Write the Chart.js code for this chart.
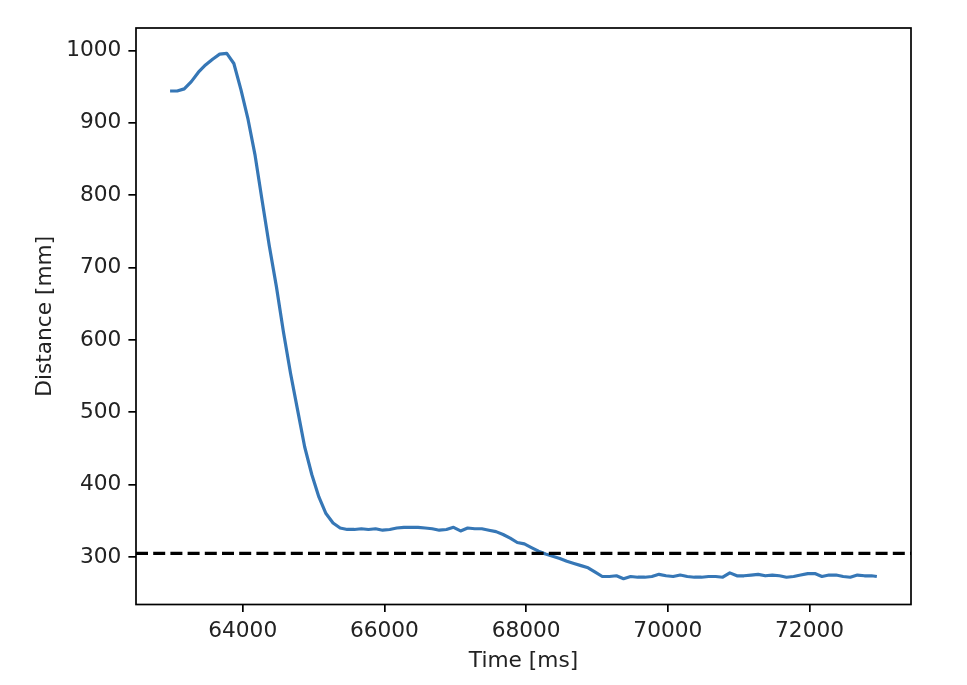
<!DOCTYPE html>
<html lang="en">
<head>
    <meta charset="UTF-8">
    <title>Distance vs Time</title>
    <script src="https://cdn.jsdelivr.net/npm/chart.js"></script>
    <style>
        body, html {
            margin: 0;
            padding: 0;
            background: #fff;
        }
        #chart {
            display: block;
        }
    </style>
</head>
<body>
<canvas id="chart" width="967" height="685" style="width:967px;height:685px;"></canvas>
<script>
    // Measured samples (time in ms, distance in mm)
    const times = [
        62975, 63075, 63175, 63275, 63375, 63475, 63575, 63675, 63775, 63875,
        63975, 64075, 64175, 64275, 64375, 64475, 64575, 64675, 64775, 64875,
        64975, 65075, 65175, 65275, 65375, 65475, 65575, 65675, 65775, 65875,
        65975, 66075, 66175, 66275, 66375, 66475, 66575, 66675, 66775, 66875,
        66975, 67075, 67175, 67275, 67375, 67475, 67575, 67675, 67775, 67875,
        67975, 68075, 68175, 68275, 68375, 68475, 68575, 68675, 68775, 68875,
        68975, 69075, 69175, 69275, 69375, 69475, 69575, 69675, 69775, 69875,
        69975, 70075, 70175, 70275, 70375, 70475, 70575, 70675, 70775, 70875,
        70975, 71075, 71175, 71275, 71375, 71475, 71575, 71675, 71775, 71875,
        71975, 72075, 72175, 72275, 72375, 72475, 72575, 72675, 72775, 72875,
        72950
    ];
    const distances = [
        944, 944, 947, 957, 970, 980, 988, 995, 996, 982,
        946, 905, 855, 792, 730, 674, 611, 554, 503, 452,
        414, 383, 360, 347, 340, 338, 338, 339, 338, 339,
        337, 338, 340, 341, 341, 341, 340, 339, 337, 338,
        341, 336, 340, 339, 339, 337, 335, 331, 326, 320,
        318, 313, 308, 304, 301, 298, 294, 291, 288, 285,
        279, 273, 273, 274, 270, 273, 272, 272, 273, 276,
        274, 273, 275, 273, 272, 272, 273, 273, 272, 278,
        274, 274, 275, 276, 274, 275, 274, 272, 273, 275,
        277, 277, 273, 275, 275, 273, 272, 275, 274, 274,
        273
    ];
    const threshold = 305;

    const xTicks = [64000, 66000, 68000, 70000, 72000];
    const yTicks = [300, 400, 500, 600, 700, 800, 900, 1000];
    const xRange = [62494, 73432];
    const yRange = [234.3, 1031.1];

    const FONT = 'DejaVu Sans';
    const FS = 21.7;

    // dashed horizontal reference line + full frame around the axes
    const extras = {
        id: 'extras',
        afterDatasetsDraw(chart) {
            const {ctx, chartArea: a, scales} = chart;
            const y = scales.y.getPixelForValue(threshold);
            ctx.save();
            ctx.strokeStyle = '#000';
            ctx.lineWidth = 3.2;
            ctx.setLineDash([12, 5.2]);
            ctx.beginPath();
            ctx.moveTo(a.left, y);
            ctx.lineTo(a.right, y);
            ctx.stroke();
            ctx.setLineDash([]);
            ctx.lineWidth = 1.7;
            ctx.strokeRect(a.left, a.top, a.right - a.left, a.bottom - a.top);
            ctx.restore();
        }
    };

    new Chart(document.getElementById('chart'), {
        type: 'line',
        data: {
            datasets: [{
                data: times.map((t, i) => ({x: t, y: distances[i]})),
                borderColor: '#3677b6',
                borderWidth: 3.2,
                pointRadius: 0,
                tension: 0,
                fill: false,
                borderJoinStyle: 'round'
            }]
        },
        options: {
            responsive: false,
            animation: false,
            devicePixelRatio: 1,
            layout: {padding: {left: 0, top: 28, right: 56, bottom: 0}},
            plugins: {legend: {display: false}, tooltip: {enabled: false}},
            scales: {
                x: {
                    type: 'linear',
                    min: xRange[0],
                    max: xRange[1],
                    afterBuildTicks: ax => { ax.ticks = xTicks.map(v => ({value: v})); },
                    afterFit: ax => { ax.height = 80.5; },
                    grid: {drawOnChartArea: false, drawTicks: true, tickLength: 7.6, color: '#000', lineWidth: 1.7},
                    border: {display: false},
                    ticks: {
                        padding: 6,
                        color: '#222',
                        font: {family: FONT, size: FS},
                        maxRotation: 0,
                        callback: v => String(v)
                    },
                    title: {
                        display: true,
                        text: 'Time [ms]',
                        color: '#222',
                        font: {family: FONT, size: FS},
                        padding: {top: 0, bottom: 11}
                    }
                },
                y: {
                    type: 'linear',
                    min: yRange[0],
                    max: yRange[1],
                    afterBuildTicks: ax => { ax.ticks = yTicks.map(v => ({value: v})); },
                    afterFit: ax => { ax.width = 136; },
                    grid: {drawOnChartArea: false, drawTicks: true, tickLength: 7.6, color: '#000', lineWidth: 1.7},
                    border: {display: false},
                    ticks: {
                        padding: 7,
                        color: '#222',
                        font: {family: FONT, size: FS},
                        callback: v => String(v)
                    },
                    title: {
                        display: true,
                        text: 'Distance [mm]',
                        color: '#222',
                        font: {family: FONT, size: FS},
                        padding: {top: 32, bottom: 0}
                    }
                }
            }
        },
        plugins: [extras]
    });
</script>
</body>
</html>
